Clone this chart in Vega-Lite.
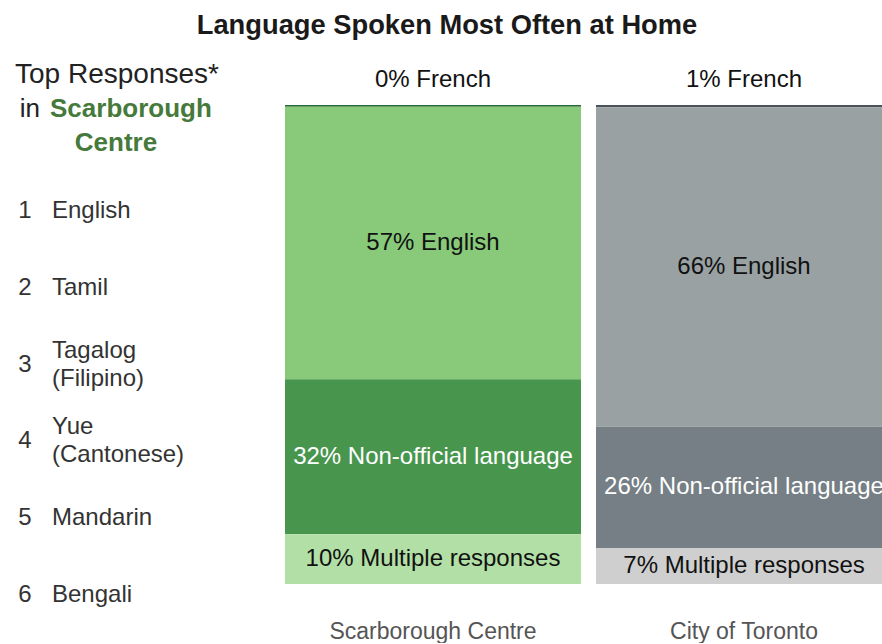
{
  "$schema": "https://vega.github.io/schema/vega-lite/v6.json",
  "background": "white",
  "padding": {"top": 11, "left": 0, "right": 0, "bottom": 0},
  "config": {
    "view": {"stroke": null},
    "font": "Liberation Sans",
    "text": {"font": "Liberation Sans"}
  },
  "title": {
    "text": "Language Spoken Most Often at Home",
    "font": "Liberation Sans",
    "fontSize": 27.3,
    "fontWeight": "bold",
    "color": "#1a1a1a",
    "anchor": "middle",
    "dx": 1,
    "offset": 19
  },
  "datasets": {
    "header": [
      {"line": 1, "text": "Top Responses*"},
      {"line": 2, "text": "in"},
      {"line": 2, "text": "Scarborough"},
      {"line": 3, "text": "Centre"}
    ],
    "ranks": [
      {"rank": 1, "language": "English"},
      {"rank": 2, "language": "Tamil"},
      {"rank": 3, "language": "Tagalog\n(Filipino)"},
      {"rank": 4, "language": "Yue\n(Cantonese)"},
      {"rank": 5, "language": "Mandarin"},
      {"rank": 6, "language": "Bengali"}
    ],
    "shares": [
      {"area": "Scarborough Centre", "category": "French", "value": 0.4, "seq": 4, "label": "0% French"},
      {"area": "Scarborough Centre", "category": "English", "value": 56.8, "seq": 3, "label": "57% English"},
      {"area": "Scarborough Centre", "category": "Non-official language", "value": 32.3, "seq": 2, "label": "32% Non-official language"},
      {"area": "Scarborough Centre", "category": "Multiple responses", "value": 10.4, "seq": 1, "label": "10% Multiple responses"},
      {"area": "City of Toronto", "category": "French", "value": 0.5, "seq": 4, "label": "1% French"},
      {"area": "City of Toronto", "category": "English", "value": 66.7, "seq": 3, "label": "66% English"},
      {"area": "City of Toronto", "category": "Non-official language", "value": 25.3, "seq": 2, "label": "26% Non-official language"},
      {"area": "City of Toronto", "category": "Multiple responses", "value": 7.5, "seq": 1, "label": "7% Multiple responses"}
    ]
  },
  "spacing": 51,
  "hconcat": [
    {
      "spacing": 13,
      "vconcat": [
        {
          "width": 234,
          "height": 102,
          "data": {"name": "header"},
          "encoding": {
            "y": {"field": "line", "type": "ordinal", "scale": {"type": "point", "domain": [1, 2, 3], "padding": 0.5}, "axis": null}
          },
          "layer": [
            {
              "transform": [{"filter": "datum.line == 1"}],
              "mark": {"type": "text", "fontSize": 28, "color": "#222222", "align": "center", "baseline": "middle"},
              "encoding": {"text": {"field": "text", "type": "nominal"}}
            },
            {
              "transform": [{"filter": "datum.text == 'in'"}],
              "mark": {"type": "text", "fontSize": 26, "color": "#222222", "align": "right", "baseline": "middle", "dx": -77},
              "encoding": {"text": {"field": "text", "type": "nominal"}}
            },
            {
              "transform": [{"filter": "datum.text == 'Scarborough'"}],
              "mark": {"type": "text", "fontSize": 26, "fontWeight": "bold", "color": "#467a3c", "align": "left", "baseline": "middle", "dx": -67},
              "encoding": {"text": {"field": "text", "type": "nominal"}}
            },
            {
              "transform": [{"filter": "datum.text == 'Centre'"}],
              "mark": {"type": "text", "fontSize": 26, "fontWeight": "bold", "color": "#467a3c", "align": "center", "baseline": "middle", "dx": -1},
              "encoding": {"text": {"field": "text", "type": "nominal"}}
            }
          ]
        },
        {
          "width": 234,
          "height": 460,
          "data": {"name": "ranks"},
          "encoding": {
            "y": {"field": "rank", "type": "ordinal", "scale": {"type": "point", "padding": 0.5}, "axis": null}
          },
          "layer": [
            {
              "mark": {"type": "text", "fontSize": 24, "color": "#333333", "align": "center", "baseline": "middle", "dx": -92},
              "encoding": {"text": {"field": "rank", "type": "ordinal"}}
            },
            {
              "transform": [{"filter": "datum.rank != 3 && datum.rank != 4"}],
              "mark": {"type": "text", "fontSize": 24, "color": "#333333", "align": "left", "baseline": "middle", "dx": -65},
              "encoding": {"text": {"field": "language", "type": "nominal"}}
            },
            {
              "transform": [{"filter": "datum.rank == 3 || datum.rank == 4"}],
              "mark": {"type": "text", "fontSize": 24, "color": "#333333", "align": "left", "baseline": "middle", "dx": -65, "dy": -14, "lineBreak": "\n", "lineHeight": 28},
              "encoding": {"text": {"field": "language", "type": "nominal"}}
            }
          ]
        }
      ]
    },
    {
      "width": 597,
      "height": 526,
      "data": {"name": "shares"},
      "encoding": {
        "x": {
          "field": "area",
          "type": "nominal",
          "sort": ["Scarborough Centre", "City of Toronto"],
          "scale": {"range": [0, 607], "paddingInner": 0.0482, "paddingOuter": 0},
          "axis": {
            "title": null,
            "domain": false,
            "ticks": false,
            "tickSize": 0,
            "labelAngle": 0,
            "labelLimit": 0,
            "labelFont": "Liberation Sans",
            "labelFontSize": 23,
            "labelColor": "#555555",
            "labelPadding": 36
          }
        }
      },
      "layer": [
        {
          "transform": [{"filter": "datum.area == 'Scarborough Centre'"}],
          "mark": {"type": "bar", "clip": true},
          "encoding": {
            "y": {"field": "value", "type": "quantitative", "stack": "normalize", "scale": {"domain": [0, 1.098]}, "axis": null},
            "order": {"field": "seq", "type": "quantitative"},
            "color": {
              "field": "category",
              "type": "nominal",
              "scale": {"domain": ["French", "English", "Non-official language", "Multiple responses"], "range": ["#2b6a37", "#88ca7a", "#48964e", "#b2dfa6"]},
              "legend": null
            }
          }
        },
        {
          "transform": [{"filter": "datum.area == 'City of Toronto'"}],
          "mark": {"type": "bar", "clip": true},
          "encoding": {
            "y": {"field": "value", "type": "quantitative", "stack": "normalize", "scale": {"domain": [0, 1.098]}, "axis": null},
            "order": {"field": "seq", "type": "quantitative"},
            "color": {
              "field": "category",
              "type": "nominal",
              "scale": {"domain": ["French", "English", "Non-official language", "Multiple responses"], "range": ["#4a525b", "#9aa1a3", "#757f85", "#cfcfcf"]},
              "legend": null
            }
          }
        },
        {
          "mark": {"type": "text", "fontSize": 24, "baseline": "middle", "align": "center", "clip": true},
          "encoding": {
            "y": {"field": "value", "type": "quantitative", "stack": "normalize", "bandPosition": 0.5, "scale": {"domain": [0, 1.098]}, "axis": null},
            "order": {"field": "seq", "type": "quantitative"},
            "detail": {"field": "category", "type": "nominal"},
            "text": {"condition": {"test": "datum.category == 'French'", "value": ""}, "field": "label", "type": "nominal"},
            "color": {"condition": {"test": "datum.category == 'Non-official language'", "value": "#ffffff"}, "value": "#111111"}
          }
        },
        {
          "mark": {"type": "text", "fontSize": 24, "baseline": "middle", "align": "center", "dy": -25, "color": "#111111", "clip": true},
          "encoding": {
            "y": {"field": "value", "type": "quantitative", "stack": "normalize", "scale": {"domain": [0, 1.098]}, "axis": null},
            "order": {"field": "seq", "type": "quantitative"},
            "detail": {"field": "category", "type": "nominal"},
            "text": {"condition": {"test": "datum.category != 'French'", "value": ""}, "field": "label", "type": "nominal"}
          }
        }
      ],
      "resolve": {"scale": {"color": "independent"}}
    }
  ]
}
